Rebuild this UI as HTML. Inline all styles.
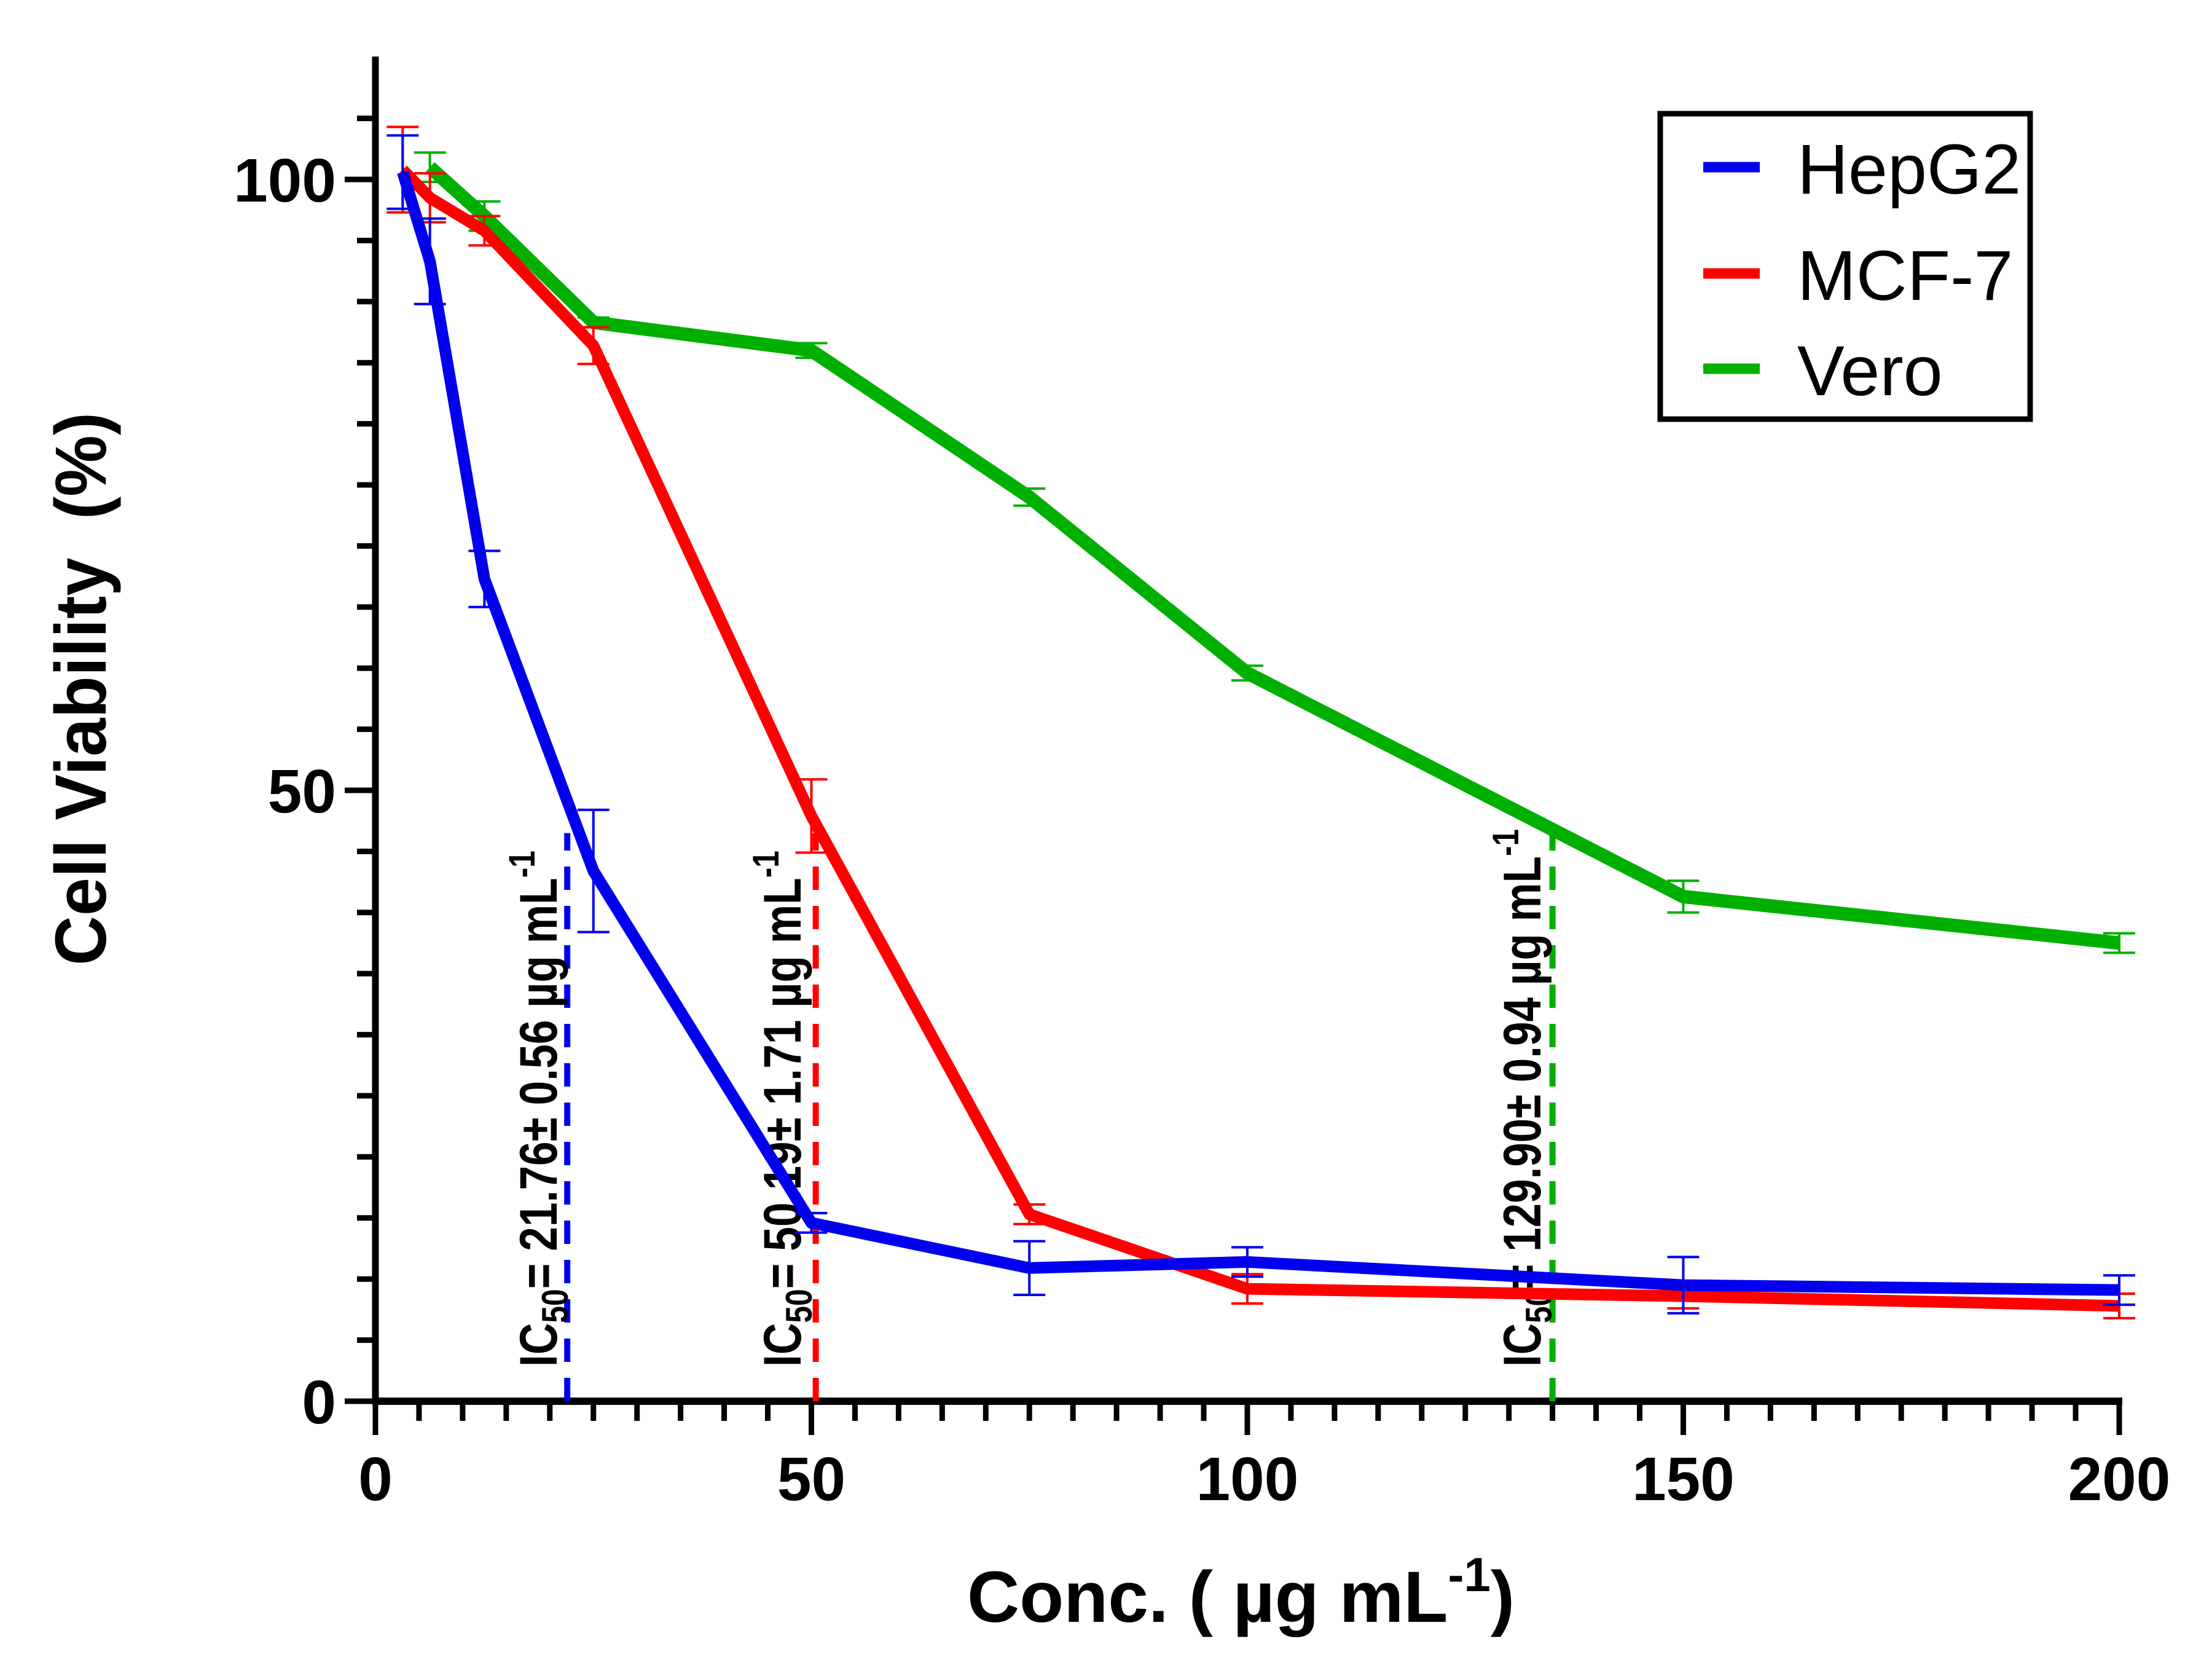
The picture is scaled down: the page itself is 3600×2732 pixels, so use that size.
<!DOCTYPE html>
<html><head><meta charset="utf-8"><style>
html,body{margin:0;padding:0;background:#fff;}
svg{display:block;}
text{font-family:"Liberation Sans",Arial,sans-serif;}
</style></head><body>
<svg id="chart" width="3600" height="2732" viewBox="0 0 3600 2732" xmlns="http://www.w3.org/2000/svg">
<rect width="3600" height="2732" fill="#fff"/>
<g id="axes"></g>
<g id="ic50"></g>
<g id="series"></g>
<g id="labels">
<text transform="translate(172,1121) rotate(-90)" text-anchor="middle" font-size="118" font-weight="bold" textLength="900" lengthAdjust="spacingAndGlyphs">Cell Viability&#160; (%)</text>
<text x="1574" y="2639" font-size="118" font-weight="bold">Conc. ( µg mL<tspan dy="-50" font-size="78">-1</tspan><tspan dy="50">)</tspan></text>
</g>
<g>
<rect x="2702" y="185" width="602" height="497" fill="#fff" stroke="#000" stroke-width="9"/>
<line x1="2772" y1="272" x2="2864" y2="272" stroke="#0000ee" stroke-width="17"/>
<text x="2925" y="315" font-size="115">HepG2</text>
<line x1="2772" y1="445" x2="2864" y2="445" stroke="#ff0000" stroke-width="17"/>
<text x="2925" y="488" font-size="115">MCF-7</text>
<line x1="2772" y1="600" x2="2864" y2="600" stroke="#00b000" stroke-width="17"/>
<text x="2925" y="643" font-size="115">Vero</text>
</g>
</svg>
<script>
const concs = [3.125, 6.25, 12.5, 25, 50, 75, 100, 150, 200];
const hepg2 = [100.6, 93.3, 67.3, 43.4, 14.6, 10.9, 11.4, 9.5, 9.1];
const hepg2Err = [3.0, 3.5, 2.3, 5.0, 0.8, 2.2, 1.2, 2.3, 1.2];
const mcf7 = [100.8, 98.5, 95.8, 86.4, 47.9, 15.3, 9.2, 8.6, 7.8];
const mcf7Err = [3.5, 2.0, 1.2, 1.5, 3.0, 0.8, 1.2, 1.0, 1.0];
const veroConcs = [6.25, 12.5, 25, 50, 75, 100, 150, 200];
const vero = [101.0, 97.0, 88.3, 86.0, 74.0, 59.6, 41.3, 37.5];
const veroErr = [1.2, 1.2, 0.4, 0.6, 0.7, 0.6, 1.3, 0.8];
const ic50Values = [21.76, 50.19, 129.90];
const ic50Positions = [22, 50.5, 135];
const ic50Errs = ["0.56", "1.71", "0.94"];
const xTicks = [0, 50, 100, 150, 200];
const yTicks = [0, 50, 100];

const NS = "http://www.w3.org/2000/svg";
const X0 = 611, X1 = 3449, Y0 = 2280, Y100 = 292;
function sx(v){ return X0 + (X1 - X0) * v / 200; }
function sy(v){ return Y0 - (Y0 - Y100) * v / 100; }
function mk(tag, attrs, parent){
  const e = document.createElementNS(NS, tag);
  for (const k in attrs) e.setAttribute(k, attrs[k]);
  parent.appendChild(e);
  return e;
}
const axes = document.getElementById('axes');
let e;
e = mk('line', {x1:X0, y1:92, x2:X0, y2:Y0+5, stroke:'#000','stroke-width':11}, axes);


e = mk('line', {x1:X0-5, y1:Y0, x2:X1+5, y2:Y0, stroke:'#000','stroke-width':12}, axes);


for (let v = 0; v <= 200; v += 5) {
  const major = v % 50 === 0;
  e = mk('line', {x1:sx(v), y1:Y0, x2:sx(v), y2:Y0 + (major ? 55 : 32), stroke:'#000','stroke-width':9}, axes);
  
  
}
for (let v = 0; v <= 105; v += 5) {
  const major = v % 50 === 0;
  e = mk('line', {x1:X0, y1:sy(v), x2:X0 - (major ? 50 : 30), y2:sy(v), stroke:'#000','stroke-width':9}, axes);
  
  
}
xTicks.forEach(v => {
  e = mk('text', {x:sx(v), y:2441, 'text-anchor':'middle','font-size':100,'font-weight':'bold'}, axes);
  e.textContent = String(v);
  
  
});
yTicks.forEach(v => {
  e = mk('text', {x:547, y:sy(v)+36, 'text-anchor':'end','font-size':100,'font-weight':'bold'}, axes);
  e.textContent = String(v);
  
  
});

const ic = document.getElementById('ic50');
const icColors = ['#0000ee', '#ff0000', '#00b000'];
const icTextX = [906, 1303, 2507];
ic50Positions.forEach((p, i) => {
  e = mk('line', {x1:sx(p), y1:Y0, x2:sx(p), y2:sy(46.5), stroke:icColors[i], 'stroke-width':10, 'stroke-dasharray':'38 26'}, ic);
  
  
  const t = mk('text', {transform:`translate(${icTextX[i]},2224) rotate(-90)`, 'font-size':86, 'font-weight':'bold', textLength: i===2 ? 875 : 840, lengthAdjust:'spacingAndGlyphs'}, ic);
  
  
  t.innerHTML = `IC<tspan dy="18" font-size="60">50</tspan><tspan dy="-18">= ${ic50Values[i].toFixed(2)}± ${ic50Errs[i]} µg mL</tspan><tspan dy="-36" font-size="60">-1</tspan>`;
});

const sg = document.getElementById('series');
function drawSeries(xs, ys, errs, color, width, name){
  const g = mk('g', {}, sg);
  
  
  xs.forEach((x, i) => {
    const cx = sx(x), top = sy(ys[i] + errs[i]), bot = sy(ys[i] - errs[i]);
    const eb = mk('path', {d:`M${cx},${top}V${bot}M${cx-26},${top}H${cx+26}M${cx-26},${bot}H${cx+26}`, stroke:color, 'stroke-width':4, fill:'none'}, g);
    
    
  });
  const pts = xs.map((x, i) => sx(x) + ',' + sy(ys[i])).join(' ');
  const pl = mk('polyline', {points:pts, fill:'none', stroke:color, 'stroke-width':width, 'stroke-linejoin':'round'}, g);
  
  
}
drawSeries(veroConcs, vero, veroErr, '#00b000', 22, 'vero');
drawSeries(concs, mcf7, mcf7Err, '#ff0000', 19, 'mcf7');
drawSeries(concs, hepg2, hepg2Err, '#0000ee', 19, 'hepg2');
</script>
</body></html>
